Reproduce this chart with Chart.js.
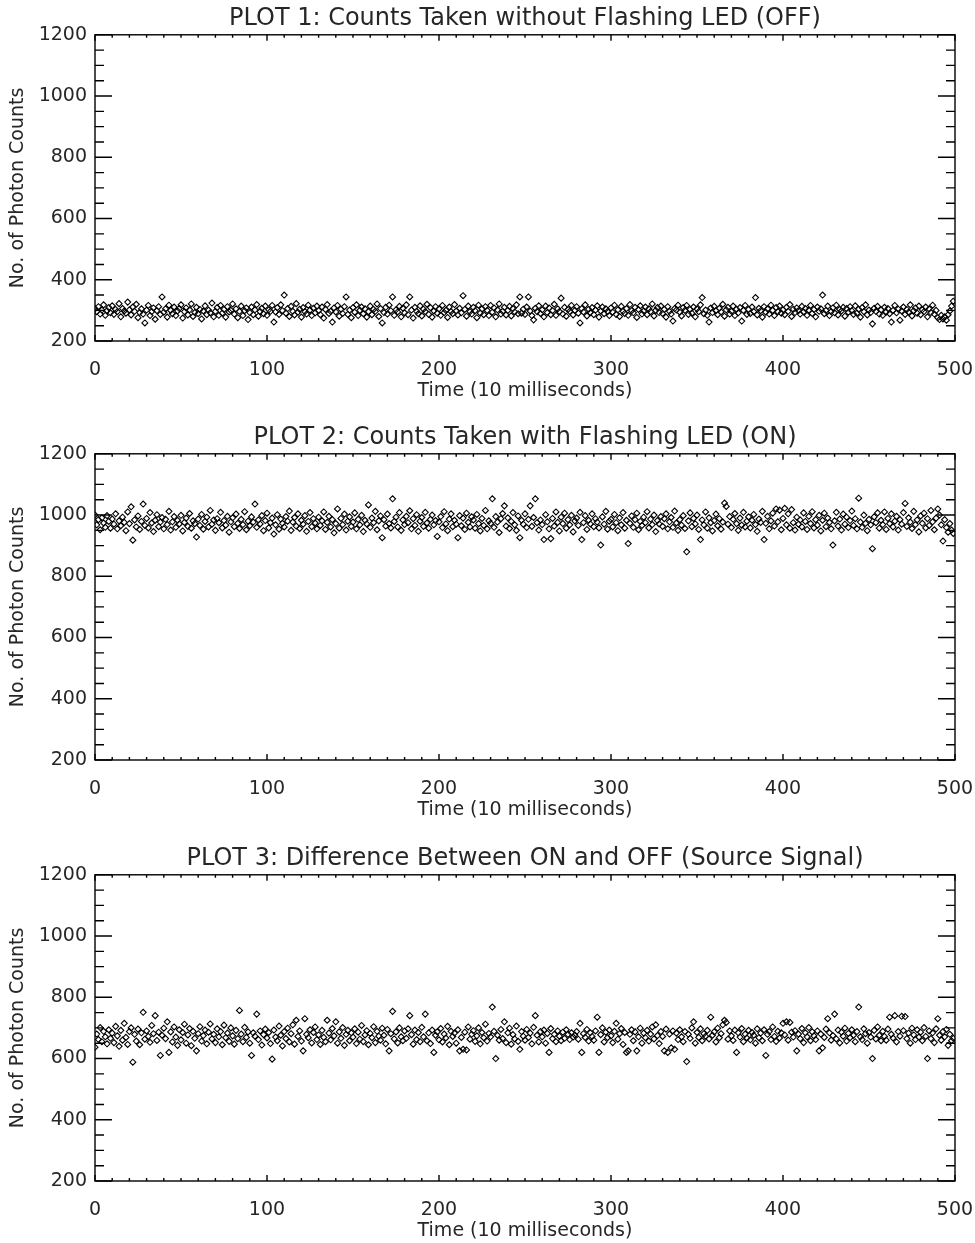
<!DOCTYPE html>
<html>
<head>
<meta charset="utf-8">
<title>Photon counts</title>
<script src="https://cdn.jsdelivr.net/npm/chart.js@4.4.1/dist/chart.umd.min.js"></script>
<style>
  body { margin: 0; background: #fff; }
  .wrap { position: relative; width: 975px; height: 1243px; }
  canvas { position: absolute; left: 0; }
</style>
</head>
<body>
<div class="wrap">
  <canvas id="plot1" width="975" height="419" style="top:0px"></canvas>
  <canvas id="plot2" width="975" height="421" style="top:419px"></canvas>
  <canvas id="plot3" width="975" height="403" style="top:840px"></canvas>
</div>
<script>
// titles
const plotTitles = [
    'PLOT 1: Counts Taken without Flashing LED (OFF)',
    'PLOT 2: Counts Taken with Flashing LED (ON)',
    'PLOT 3: Difference Between ON and OFF (Source Signal)'
]
const xTitle = 'Time (10 milliseconds)'
const yTitle = 'No. of Photon Counts'

// axis ranges / ticks
const xMin = 0, xMax = 500, xMinorStep = 10, xMajorStep = 100
const yMin = 200, yMax = 1200, yMinorStep = 50, yMajorStep = 200

// counts, one per 10 ms step (t = 0..499)
const countsOff = [
    305, 296, 312, 288, 301, 318, 284, 299, 309, 292,
    315, 287, 303, 296, 322, 279, 306, 298, 291, 327,
    302, 285, 311, 297, 320, 276, 293, 305, 288, 259,
    301, 316, 283, 296, 308, 271, 299, 312, 287, 344,
    294, 305, 278, 317, 300, 289, 311, 283, 298, 306,
    318, 275, 296, 308, 285, 302, 321, 280, 293, 310,
    289, 303, 272, 298, 315, 286, 301, 292, 324, 279,
    297, 309, 284, 316, 291, 303, 278, 312, 295, 300,
    321, 288, 305, 276, 297, 314, 283, 299, 308, 270,
    293, 311, 286, 302, 319, 281, 296, 307, 289, 314,
    284, 302, 297, 316, 262, 295, 309, 287, 318, 299,
    350, 291, 306, 280, 313, 297, 285, 322, 294, 304,
    278, 309, 296, 288, 317, 301, 283, 307, 292, 314,
    299, 286, 311, 275, 303, 319, 290, 297, 262, 308,
    295, 316, 281, 304, 290, 312, 344, 287, 301, 276,
    309, 294, 318, 283, 300, 311, 289, 305, 278, 296,
    314, 286, 303, 297, 321, 280, 306, 259, 293, 310,
    288, 317, 299, 344, 284, 302, 295, 313, 279, 307,
    292, 318, 286, 344, 301, 275, 310, 297, 289, 315,
    282, 304, 296, 320, 287, 309, 278, 298, 312, 291,
    305, 284, 316, 293, 300, 277, 311, 296, 289, 319,
    298, 285, 307, 292, 348, 303, 281, 314, 296, 288,
    310, 299, 276, 317, 291, 305, 286, 312, 300, 283,
    316, 294, 308, 279, 302, 321, 288, 297, 310, 285,
    300, 313, 282, 306, 295, 318, 289, 344, 291, 304,
    287, 311, 344, 298, 283, 269, 307, 296, 315, 290,
    302, 279, 314, 293, 308, 286, 299, 320, 284, 305,
    296, 340, 288, 310, 281, 303, 297, 316, 285, 300,
    312, 291, 259, 306, 295, 318, 282, 304, 293, 309,
    286, 301, 315, 278, 298, 311, 289, 305, 296, 283,
    308, 294, 317, 287, 302, 280, 313, 297, 290, 306,
    284, 319, 299, 292, 310, 277, 303, 315, 288, 298,
    311, 286, 305, 296, 321, 282, 300, 309, 293, 314,
    290, 303, 278, 312, 297, 288, 265, 306, 301, 317,
    294, 282, 309, 300, 316, 287, 303, 291, 311, 279,
    305, 296, 318, 342, 289, 301, 284, 262, 308, 293,
    313, 299, 286, 307, 295, 320, 281, 302, 310, 288,
    297, 314, 283, 304, 292, 309, 265, 300, 316, 287,
    303, 290, 311, 296, 342, 285, 307, 299, 278, 312,
    294, 305, 288, 317, 300, 283, 309, 296, 314, 291,
    302, 286, 310, 297, 319, 280, 304, 293, 308, 299,
    288, 313, 295, 306, 284, 301, 316, 290, 303, 279,
    311, 297, 305, 350, 289, 300, 314, 283, 296, 308,
    292, 317, 285, 303, 298, 310, 281, 306, 294, 312,
    299, 287, 315, 291, 304, 278, 309, 296, 318, 285,
    301, 293, 256, 307, 297, 313, 288, 302, 284, 310,
    295, 306, 289, 262, 300, 316, 292, 304, 268, 298,
    311, 287, 303, 294, 318, 282, 299, 308, 291, 314,
    286, 302, 296, 311, 279, 305, 293, 317, 288, 300,
    276, 270, 284, 272, 279, 268, 286, 298, 314, 330
]

const countsOn = [
    1000, 968, 985, 952, 991, 974, 960, 998, 979, 957,
    987, 970, 1004, 955, 981, 965, 993, 976, 949, 1010,
    972, 1027, 918, 984, 961, 997, 953, 979, 1036, 966,
    989, 958, 1008, 974, 946, 983, 1001, 962, 977, 992,
    955, 986, 969, 1012, 951, 978, 995, 960, 983, 971,
    999, 948, 976, 990, 963, 1005, 957, 981, 972, 928,
    987, 966, 1002, 954, 979, 993, 961, 1015, 970, 984,
    950, 988, 975, 1009, 958, 982, 967, 996, 944, 978,
    991, 962, 1003, 973, 956, 986, 969, 1011, 952, 980,
    965, 994, 977, 1036, 960, 984, 971, 998, 949, 982,
    1006, 958, 975, 990, 938, 968, 1001, 954, 987, 973,
    961, 995, 980, 1013, 950, 977, 992, 964, 1004, 956,
    983, 970, 998, 947, 979, 1008, 962, 988, 974, 955,
    993, 966, 981, 1010, 953, 976, 996, 961, 985, 942,
    972, 1020, 957, 989, 969, 1003, 951, 980, 994, 963,
    977, 1007, 955, 986, 968, 999, 946, 983, 971, 1033,
    960, 990, 975, 1012, 952, 981, 997, 926, 985, 964,
    1003, 972, 958, 1053, 979, 993, 961, 1008, 950, 984,
    969, 996, 975, 1014, 955, 988, 966, 1001, 947, 980,
    992, 963, 1009, 974, 957, 986, 1000, 968, 982, 930,
    978, 995, 959, 1011, 971, 949, 987, 1004, 962, 983,
    970, 926, 998, 965, 990, 953, 1006, 976, 961, 994,
    984, 957, 1002, 972, 948, 989, 966, 1015, 955, 981,
    973, 1053, 960, 995, 977, 943, 988, 1005, 1030, 964,
    991, 956, 979, 1008, 968, 950, 997, 926, 983, 970,
    1004, 959, 986, 1030, 963, 992, 1053, 975, 951, 984,
    969, 920, 1001, 978, 955, 923, 989, 964, 1010, 976,
    948, 993, 972, 1006, 957, 985, 968, 999, 945, 981,
    990, 966, 1009, 920, 975, 998, 953, 983, 971, 1004,
    962, 988, 977, 958, 902, 994, 970, 1012, 954, 980,
    986, 961, 1002, 975, 949, 991, 968, 1008, 957, 983,
    907, 973, 997, 960, 985, 1006, 952, 979, 966, 993,
    975, 1011, 958, 987, 969, 1000, 946, 982, 971, 995,
    963, 988, 1004, 955, 978, 992, 960, 1013, 974, 950,
    985, 967, 998, 956, 880, 981, 1007, 962, 989, 971,
    1000, 953, 920, 984, 968, 1010, 957, 991, 975, 948,
    982, 1003, 965, 988, 954, 977, 1039, 1028, 970, 995,
    959, 986, 1005, 972, 950, 990, 967, 1009, 961, 980,
    994, 958, 983, 1002, 969, 947, 987, 976, 1012, 920,
    973, 996, 955, 981, 1006, 964, 1020, 978, 1016, 952,
    989, 1022, 968, 1004, 957, 1018, 975, 951, 993, 970,
    984, 961, 1007, 979, 953, 996, 972, 1011, 958, 985,
    967, 999, 948, 983, 1006, 962, 990, 976, 955, 902,
    981, 1009, 964, 987, 951, 1003, 970, 993, 959, 982,
    1013, 966, 988, 955, 1055, 977, 960, 1000, 973, 949,
    986, 968, 890, 994, 975, 1007, 957, 983, 969, 1010,
    953, 989, 972, 1004, 961, 980, 996, 951, 985, 970,
    1008, 1038, 963, 991, 977, 956, 1012, 969, 984, 945,
    997, 973, 1006, 958, 988, 966, 1015, 978, 952, 990,
    1020, 1000, 968, 915, 985, 959, 944, 972, 951, 940
]

const countsDiff = [
    637, 680, 662, 701, 655, 689, 671, 648, 694, 666,
    683, 652, 705, 674, 640, 692, 660, 715, 669, 646,
    688, 700, 588, 679, 657, 696, 645, 684, 751, 663,
    690, 672, 653, 708, 681, 740, 659, 686, 610, 676,
    699, 665, 720, 620, 687, 654, 703, 670, 643, 694,
    661, 685, 712, 650, 677, 698, 642, 689, 666, 625,
    681, 704, 657, 675, 693, 648, 686, 713, 664, 679,
    652, 697, 671, 688, 645, 709, 668, 683, 656, 700,
    674, 647, 692, 665, 757, 680, 655, 702, 669, 687,
    650, 610, 684, 673, 745, 662, 690, 644, 678, 696,
    667, 685, 649, 598, 693, 670, 658, 706, 676, 641,
    688, 665, 699, 654, 681, 710, 647, 725, 672, 690,
    657, 625, 730, 679, 668, 694, 651, 685, 703, 662,
    677, 646, 692, 669, 655, 725, 683, 661, 698, 674,
    720, 650, 687, 666, 701, 643, 679, 692, 658, 684,
    670, 697, 649, 686, 663, 708, 655, 677, 691, 645,
    682, 668, 704, 652, 689, 673, 660, 699, 676, 648,
    695, 625, 681, 754, 664, 687, 651, 700, 671, 658,
    690, 666, 697, 740, 678, 647, 693, 662, 685, 655,
    702, 671, 745, 658, 684, 649, 693, 620, 676, 687,
    661, 698, 654, 680, 667, 705, 645, 689, 672, 683,
    650, 694, 625, 669, 630, 686, 628, 703, 663, 679,
    691, 656, 674, 700, 648, 685, 668, 712, 657, 682,
    671, 768, 689, 600, 676, 660, 695, 665, 720, 652,
    684, 699, 647, 678, 664, 706, 656, 630, 688, 673,
    660, 695, 669, 683, 648, 702, 740, 676, 654, 688,
    671, 693, 650, 682, 620, 698, 665, 679, 655, 690,
    673, 658, 686, 666, 694, 679, 662, 684, 670, 677,
    688, 663, 715, 620, 681, 669, 695, 657, 684, 672,
    660, 690, 735, 620, 678, 700, 654, 686, 668, 693,
    674, 652, 689, 715, 663, 681, 698, 646, 685, 620,
    625, 679, 694, 658, 687, 625, 671, 699, 650, 683,
    668, 692, 657, 680, 703, 664, 710, 675, 649, 688,
    672, 625, 696, 620, 680, 635, 690, 630, 683, 662,
    694, 671, 655, 688, 590, 679, 666, 700, 720, 650,
    685, 669, 697, 658, 681, 673, 692, 664, 735, 676,
    687, 654, 699, 668, 681, 710, 725, 718, 663, 690,
    674, 659, 693, 620, 684, 670, 698, 655, 680, 667,
    692, 661, 685, 676, 650, 697, 668, 683, 658, 694,
    610, 679, 688, 662, 703, 672, 656, 689, 667, 684,
    715, 677, 720, 660, 718, 686, 670, 691, 625, 680,
    665, 698, 652, 684, 671, 701, 658, 687, 674, 662,
    690, 625, 680, 635, 669, 696, 730, 684, 660, 675,
    745, 664, 693, 651, 686, 673, 699, 657, 682, 668,
    694, 676, 655, 688, 768, 671, 662, 697, 681, 650,
    685, 670, 600, 692, 664, 703, 676, 658, 689, 672,
    660, 696, 735, 679, 667, 740, 654, 688, 673, 738,
    691, 737, 665, 683, 650, 699, 677, 662, 694, 670,
    686, 658, 701, 672, 600, 690, 665, 684, 652, 697,
    730, 676, 660, 688, 671, 695, 643, 679, 658, 666
]

const axisFont = { family: 'DejaVu Sans', size: 19, weight: 'normal' }
const titleFont = { family: 'DejaVu Sans', size: 24, weight: 'normal' }
const textColor = '#262626'

// IDL style: box round the plot with inward ticks on all four sides
const idlTicks = {
    id: 'idlTicks',
    afterDraw(chart) {
        const ctx = chart.ctx
        const area = chart.chartArea
        const xs = chart.scales.x
        const ys = chart.scales.y
        ctx.save()
        ctx.strokeStyle = '#000'
        ctx.lineWidth = 1.4
        ctx.strokeRect(area.left, area.top, area.right - area.left, area.bottom - area.top)
        ctx.beginPath()
        ys.ticks.forEach(t => {
            const py = ys.getPixelForValue(t.value)
            const len = t.value % yMajorStep === 0 ? 17 : 9
            ctx.moveTo(area.left, py)
            ctx.lineTo(area.left + len, py)
            ctx.moveTo(area.right, py)
            ctx.lineTo(area.right - len, py)
        })
        xs.ticks.forEach(t => {
            const px = xs.getPixelForValue(t.value)
            const len = t.value % xMajorStep === 0 ? 6 : 3
            ctx.moveTo(px, area.bottom)
            ctx.lineTo(px, area.bottom - len)
            ctx.moveTo(px, area.top)
            ctx.lineTo(px, area.top + len)
        })
        ctx.stroke()
        ctx.restore()
    }
}

const xAxisHeight = 63

function makePlot(canvasId, title, values) {
    const canvas = document.getElementById(canvasId)
    const points = values.map((v, i) => ({ x: i, y: v }))
    return new Chart(canvas.getContext('2d'), {
        type: 'scatter',
        data: {
            datasets: [{
                data: points,
                pointStyle: 'rectRot',
                pointRadius: 3,
                pointBorderWidth: 1.1,
                pointBorderColor: '#000',
                pointBackgroundColor: 'rgba(0,0,0,0)'
            }]
        },
        options: {
            responsive: false,
            animation: false,
            devicePixelRatio: 1,
            layout: { padding: { left: 0, right: 20, top: 0, bottom: canvas.height - 341 - xAxisHeight } },
            plugins: {
                legend: { display: false },
                tooltip: { enabled: false },
                title: {
                    display: true,
                    fullSize: false,
                    text: title,
                    color: textColor,
                    font: titleFont,
                    padding: { top: 4, bottom: 2 }
                }
            },
            scales: {
                x: {
                    type: 'linear',
                    min: xMin,
                    max: xMax,
                    afterFit: s => { s.height = xAxisHeight; s.paddingLeft = 0; s.paddingRight = 0 },
                    grid: { display: false, drawTicks: false },
                    border: { display: false },
                    ticks: {
                        stepSize: xMinorStep,
                        maxTicksLimit: 100,
                        autoSkip: false,
                        maxRotation: 0,
                        padding: 18,
                        color: textColor,
                        font: axisFont,
                        callback: v => (v % xMajorStep === 0 ? String(v) : '')
                    },
                    title: {
                        display: true,
                        text: xTitle,
                        color: textColor,
                        font: axisFont,
                        padding: { top: 0, bottom: 2 }
                    }
                },
                y: {
                    type: 'linear',
                    min: yMin,
                    max: yMax,
                    afterFit: s => { s.width = 95; s.paddingTop = 0; s.paddingBottom = 0 },
                    grid: { display: false, drawTicks: false },
                    border: { display: false },
                    ticks: {
                        stepSize: yMinorStep,
                        maxTicksLimit: 100,
                        autoSkip: false,
                        padding: 8,
                        color: textColor,
                        font: axisFont,
                        callback: v => (v % yMajorStep === 0 ? String(v) : '')
                    },
                    title: {
                        display: true,
                        text: yTitle,
                        color: textColor,
                        font: axisFont,
                        padding: { top: 7, bottom: 0 }
                    }
                }
            }
        },
        plugins: [idlTicks]
    })
}

makePlot('plot1', plotTitles[0], countsOff)
makePlot('plot2', plotTitles[1], countsOn)
makePlot('plot3', plotTitles[2], countsDiff)
</script>
</body>
</html>
